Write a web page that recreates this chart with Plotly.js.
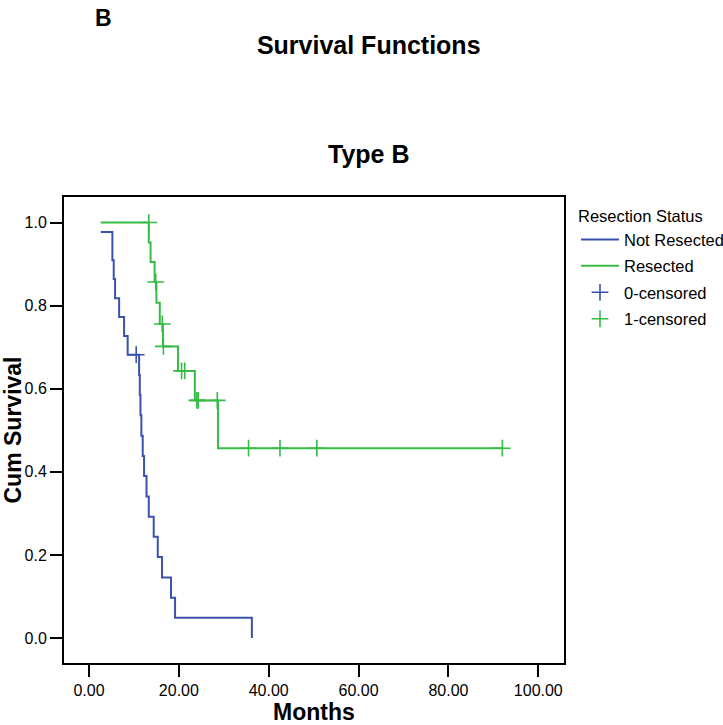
<!DOCTYPE html>
<html>
<head>
<meta charset="utf-8">
<script src="https://cdn.plot.ly/plotly-3.0.1.min.js"></script>
<style>html,body{margin:0;padding:0;background:#fff;}#chart{width:723px;height:725px;}</style>
</head>
<body>
<div id="chart"></div>
<script>
// Not Resected (step curve)
const notResTime = [2.6, 5.2, 5.5, 5.8, 6.7, 7.8, 8.6, 11.15, 11.3, 11.45, 11.65, 11.95, 12.25, 12.8, 13.3, 14.4, 15.3, 16.25, 18.25, 19.15, 36.25];
const notResSurv = [0.977, 0.909, 0.864, 0.818, 0.773, 0.727, 0.682, 0.633, 0.585, 0.536, 0.487, 0.438, 0.390, 0.341, 0.292, 0.244, 0.195, 0.146, 0.097, 0.049, 0.0];
// Not Resected censored
const notResCensTime = [10.5];
const notResCensSurv = [0.682];
// Resected (step curve)
const resTime = [2.6, 13.3, 13.7, 14.6, 15.0, 15.75, 16.45, 19.8, 23.55, 28.7, 92.0];
const resSurv = [1.0, 0.952, 0.905, 0.857, 0.807, 0.756, 0.702, 0.643, 0.572, 0.457, 0.457];
// Resected censored
const resCensTime = [13.3, 14.85, 16.3, 16.55, 20.6, 21.3, 24.0, 24.3, 28.55, 35.5, 42.5, 50.7, 92.0];
const resCensSurv = [1.0, 0.857, 0.756, 0.702, 0.643, 0.643, 0.572, 0.572, 0.572, 0.457, 0.457, 0.457, 0.457];
// Tick values
const xTicks = [0, 20, 40, 60, 80, 100];
const yTicks = [0.0, 0.2, 0.4, 0.6, 0.8, 1.0];

const BLUE = '#3a52ad';
const GREEN = '#36bc45';
const FONT = 'Liberation Sans, Arial, Helvetica, sans-serif';

const traces = [
  {x: notResTime, y: notResSurv, type: 'scatter', mode: 'lines', name: 'Not Resected',
   line: {color: BLUE, width: 2, shape: 'hv'}, legendgroup: 'a'},
  {x: resTime, y: resSurv, type: 'scatter', mode: 'lines', name: 'Resected',
   line: {color: GREEN, width: 2, shape: 'hv'}, legendgroup: 'b'},
  {x: notResCensTime, y: notResCensSurv, type: 'scatter', mode: 'markers', name: '0-censored',
   marker: {symbol: 'cross-thin', size: 12, color: BLUE, line: {color: BLUE, width: 1.6}}, legendgroup: 'c'},
  {x: resCensTime, y: resCensSurv, type: 'scatter', mode: 'markers', name: '1-censored',
   marker: {symbol: 'cross-thin', size: 12, color: GREEN, line: {color: GREEN, width: 1.6}}, legendgroup: 'd'}
];

const layout = {
  width: 723, height: 725,
  margin: {l: 64, r: 159, t: 197, b: 62, autoexpand: false},
  paper_bgcolor: '#fff', plot_bgcolor: '#fff',
  font: {family: FONT, color: '#000', size: 16},
  title: {text: '<b>Survival Functions</b>', x: 0.51, xanchor: 'center', xref: 'container',
          y: 0.938, yanchor: 'middle', yref: 'container', font: {family: FONT, size: 25, color: '#000'}},
  xaxis: {
    range: [-5.57, 105.72], tickvals: xTicks, tickformat: '.2f',
    ticks: 'outside', ticklen: 12, tickwidth: 2, tickcolor: '#000',
    showline: true, linecolor: '#000', linewidth: 2, mirror: true,
    showgrid: false, zeroline: false, tickfont: {size: 16}, automargin: false,
    title: {text: '<b>Months</b>', font: {size: 23}, standoff: 11}
  },
  yaxis: {
    range: [-0.060, 1.0615], tickvals: yTicks, tickformat: '.1f',
    ticks: 'outside', ticklen: 12, tickwidth: 2, tickcolor: '#000',
    showline: true, linecolor: '#000', linewidth: 2, mirror: true,
    showgrid: false, zeroline: false, tickfont: {size: 16}, automargin: false,
    title: {text: '<b>Cum Survival</b>', font: {size: 23}, standoff: 4}
  },
  showlegend: true,
  legend: {
    x: 1.024, xanchor: 'left', y: 0.992, yanchor: 'top',
    bgcolor: 'rgba(0,0,0,0)', borderwidth: 0,
    font: {size: 16.5}, traceorder: 'grouped', tracegroupgap: 2, itemwidth: 38,
    title: {text: 'Resection Status', font: {size: 16.5}}
  },
  annotations: [
    {text: '<b>Type B</b>', xref: 'paper', yref: 'paper', x: 0.609, y: 1.0915,
     xanchor: 'center', yanchor: 'middle', showarrow: false, font: {size: 25}},
    {text: '<b>B</b>', xref: 'paper', yref: 'paper', x: 0.058, y: 1.385,
     xanchor: 'left', yanchor: 'middle', showarrow: false, font: {size: 23}}
  ]
};

Plotly.newPlot('chart', traces, layout, {displayModeBar: false, staticPlot: true});
</script>
</body>
</html>
